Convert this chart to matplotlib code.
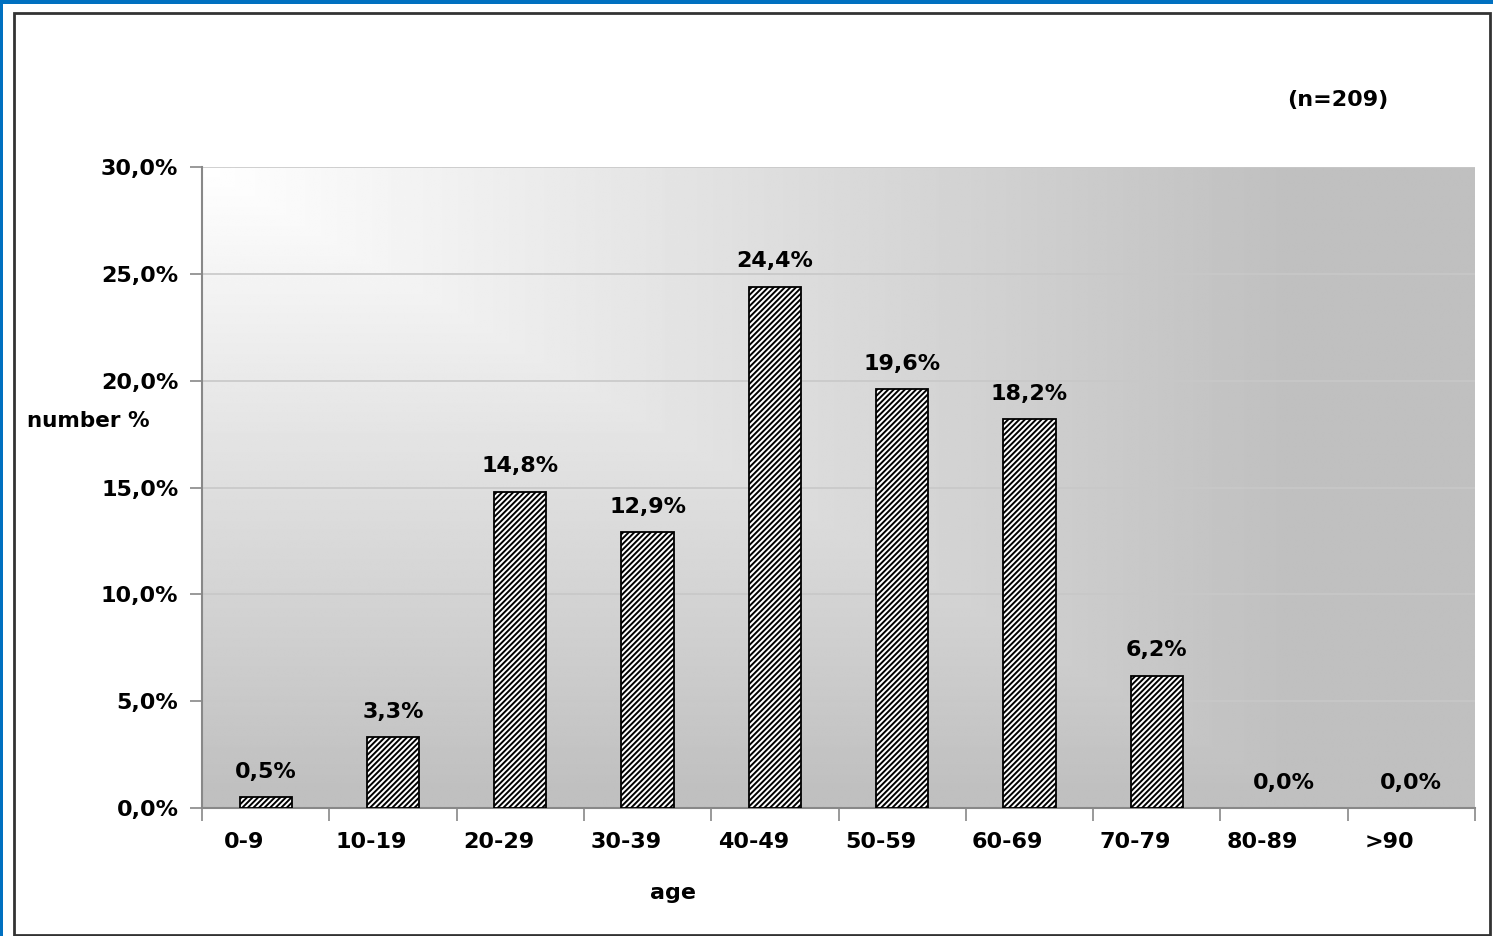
import numpy as np
import matplotlib
matplotlib.use('Agg')
import matplotlib.pyplot as plt
from matplotlib.patches import Rectangle

age_groups = ['0-9', '10-19', '20-29', '30-39', '40-49', '50-59', '60-69',
              '70-79', '80-89', '>90']
percent = [0.5, 3.3, 14.8, 12.9, 24.4, 19.6, 18.2, 6.2, 0.0, 0.0]
y_ticks = [0, 5, 10, 15, 20, 25, 30]

plt.rcParams['font.family'] = 'DejaVu Sans'
plt.rcParams['font.weight'] = 'bold'
plt.rcParams['hatch.linewidth'] = 1.4

W, H = 1493, 936
fig = plt.figure(figsize=(W / 100, H / 100), dpi=100)
fig.patch.set_facecolor('white')

# blue outer border (top and left) and black inner frame
fig.patches.append(Rectangle((0, 1 - 4 / H), 1, 4 / H, transform=fig.transFigure,
                             facecolor='#0070c0', edgecolor='none'))
fig.patches.append(Rectangle((0, 0), 3 / W, 1, transform=fig.transFigure,
                             facecolor='#0070c0', edgecolor='none'))
fig.patches.append(Rectangle((14 / W, 1 / H), (1490 - 14) / W, (935 - 13) / H,
                             transform=fig.transFigure, facecolor='none',
                             edgecolor='#333333', linewidth=2))

ax = fig.add_axes([202 / W, 1 - 808 / H, (1475 - 202) / W, (808 - 167) / H])

# "from corner" gradient: white top-left to grey
gx, gy = np.meshgrid(np.linspace(0, 1, 400), np.linspace(0, 1, 300))
t = np.clip(np.maximum(gx / 0.85, gy / 0.97), 0, 1)
shade = 1.0 - 0.247 * t
ax.imshow(shade, cmap='gray', vmin=0, vmax=1, extent=[0, 1, 0, 1],
          transform=ax.transAxes, aspect='auto', zorder=0,
          interpolation='bilinear')

x = np.arange(len(age_groups))
edge = ['black' if v > 0 else 'none' for v in percent]
ax.bar(x, percent, width=0.41, color='white', edgecolor=edge,
       hatch='//////', linewidth=1.3, zorder=3)

for xi, v in zip(x, percent):
    ax.annotate(f'{v:.1f}%'.replace('.', ','), (xi, v), xytext=(0, 11),
                textcoords='offset points', ha='center', va='bottom',
                fontsize=16, fontweight='bold', zorder=4)

ax.set_xlim(-0.5, len(age_groups) - 0.5)
ax.set_ylim(0, 30)
ax.set_yticks(y_ticks)
ax.set_yticklabels([f'{v:.1f}%'.replace('.', ',') for v in y_ticks],
                   fontsize=16, fontweight='bold')
ax.yaxis.grid(True, color='#c8c8c8', linewidth=1.2, zorder=1)
ax.set_axisbelow(True)

# category labels sit a little left of the bar centres, as in the original
ax.set_xticks(x - 0.17)
ax.set_xticklabels(age_groups, fontsize=16, fontweight='bold')
ax.set_xticks(np.arange(-0.5, len(age_groups)), minor=True)
ax.tick_params(axis='x', which='major', length=0, pad=17)
ax.tick_params(axis='x', which='minor', length=9, color='#888888', width=1.2,
               direction='out')
ax.tick_params(axis='y', length=9, color='#888888', width=1.2, pad=8)

for side in ['top', 'right']:
    ax.spines[side].set_visible(False)
for side in ['left', 'bottom']:
    ax.spines[side].set_color('#888888')
    ax.spines[side].set_linewidth(1.5)

fig.text(673 / W, 1 - 893 / H, 'age', ha='center', va='center', fontsize=16,
         fontweight='bold')
fig.text(88 / W, 1 - 421 / H, 'number %', ha='center', va='center',
         fontsize=15.5, fontweight='bold')
fig.text(1338 / W, 1 - 100 / H, '(n=209)', ha='center', va='center',
         fontsize=16, fontweight='bold')

fig.savefig('out.png', dpi=100)
